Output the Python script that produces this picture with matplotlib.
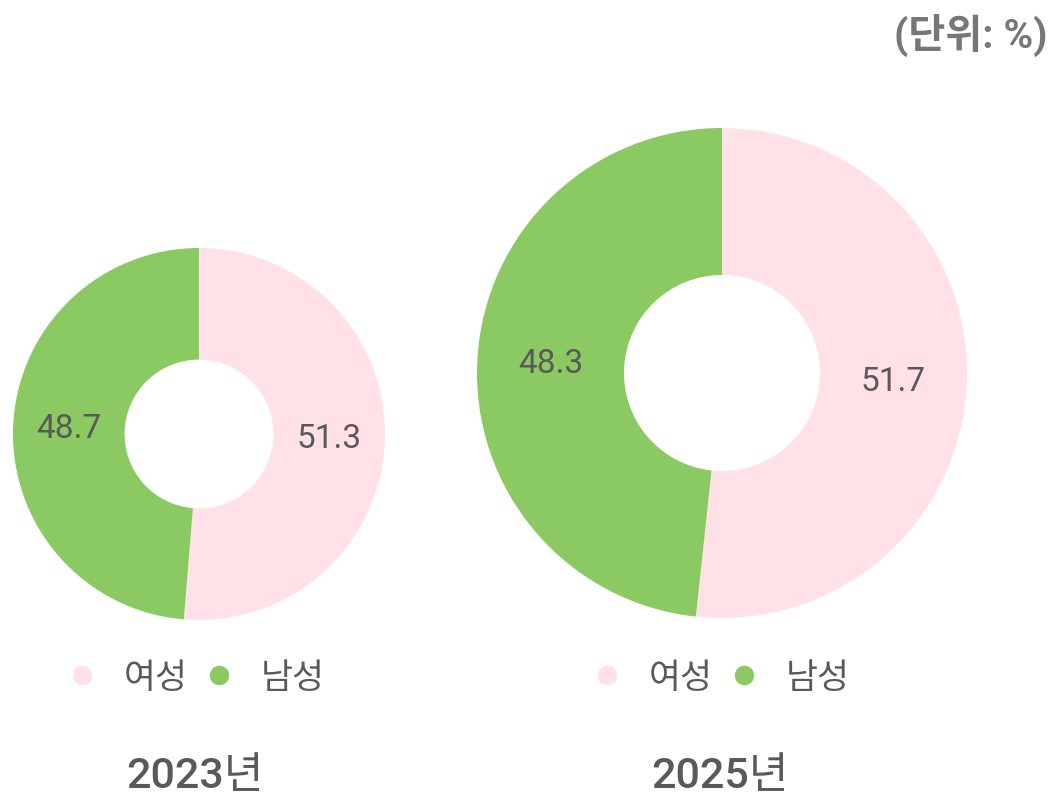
import matplotlib
matplotlib.use("Agg")
import matplotlib.pyplot as plt
from matplotlib.lines import Line2D

# Roboto for digits, Noto CJK for the Korean glyphs
plt.rcParams['font.family'] = ['Roboto', 'Noto Sans CJK KR', 'DejaVu Sans']

# data
years = ["2023년", "2025년"]
genders = ["여성", "남성"]
values_2023 = [51.3, 48.7]
values_2025 = [51.7, 48.3]
colors = ["#FFE1E7", "#8BC963"]
text_gray = "#595959"

W, H = 1054, 805
fig = plt.figure(figsize=(W / 100, H / 100), dpi=100)
fig.patch.set_facecolor("white")

def px_axes(cx, cy, r):
    # square axes centred on (cx, cy) in pixel coords from top-left
    return fig.add_axes([(cx - r) / W, 1 - (cy + r) / H, 2 * r / W, 2 * r / H])

def donut(ax, vals):
    wedges, _, autotexts = ax.pie(
        vals, colors=colors, startangle=90, counterclock=False,
        radius=1.0, wedgeprops=dict(width=0.6, linewidth=0),
        autopct=lambda p: f"{p:.1f}", pctdistance=0.7,
        textprops=dict(fontsize=24, color=text_gray))
    ax.set_xlim(-1, 1)
    ax.set_ylim(-1, 1)
    ax.set_aspect("equal")
    ax.axis("off")
    return wedges

ax1 = px_axes(199, 434, 186)
donut(ax1, values_2023)
ax2 = px_axes(722, 373, 245)
donut(ax2, values_2025)

handles = [Line2D([0], [0], marker="o", linestyle="none", markersize=13,
                  markerfacecolor=c, markeredgecolor=c) for c in colors]

for cx, yr in [(195, years[0]), (720, years[1])]:
    fig.legend(handles, genders, loc="center", bbox_to_anchor=(cx / W, 1 - 678 / H),
               ncol=2, frameon=False, fontsize=25, labelcolor=text_gray,
               handletextpad=0.7, columnspacing=0.4, handlelength=1.0)
    fig.text(cx / W, 1 - 777 / H, yr, ha="center", va="center",
             fontsize=31, color=text_gray, fontweight="medium")

fig.text(1047 / W, 1 - 36 / H, "(단위: %)", ha="right", va="center",
         fontsize=29, color="#777777", fontweight="bold")

fig.savefig("out.png", dpi=100, facecolor="white")
